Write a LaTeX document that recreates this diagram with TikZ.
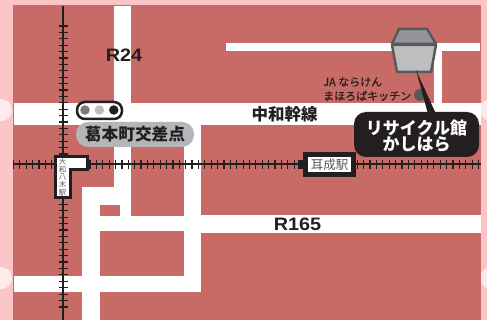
\documentclass[tikz,border=0pt]{standalone}
\usepackage{fontspec}
\setmainfont{Liberation Sans}
\newfontfamily\jpfont{Noto Sans CJK JP}
\newfontfamily\jpmedium[FakeBold=0.5]{Noto Sans CJK JP}
\usetikzlibrary{positioning, calc}
\definecolor{mapred}{HTML}{C86B67}
\definecolor{mappink}{HTML}{FBC5C8}
\definecolor{bulge}{HTML}{FDEBEB}
\definecolor{ink}{HTML}{231F20}
\definecolor{midgray}{HTML}{58595B}
\definecolor{roofgray}{HTML}{939598}
\definecolor{wallgray}{HTML}{BCBEC0}
\definecolor{pillgray}{HTML}{B5B6BA}
\tikzset{road/.style={fill=white}}
\tikzset{rail/.style={draw=ink, line width=1.2pt}}
\tikzset{roadname/.style={text=ink, font=\bfseries\fontsize{18}{18}\selectfont, inner sep=0pt, xscale=1.1, transform shape}}
\tikzset{jptext/.style={text=ink, inner sep=0pt, font=\jpfont\bfseries\fontsize{#1}{#1}\selectfont}}
\tikzset{lamp/.style={circle, minimum size=9.5pt, inner sep=0pt}}
\begin{document}
\begin{tikzpicture}[x=1pt, y=-1pt]
  \useasboundingbox (0,0) rectangle (487,320);
  \fill[mappink] (0,0) rectangle (487,320);
  \foreach \y in {110,278} {
    \fill[bulge] (1,\y) circle (11);
    \fill[bulge] (491,\y) circle (11);
  }
  \fill[mapred] (13,5) rectangle (481,320);

  % roads
  \fill[road] (114,6) rectangle (131,216);
  \fill[road] (14,103) rectangle (481,125);
  \fill[road] (184,125) rectangle (201,292);
  \fill[road] (82,187) rectangle (131,205);
  \fill[road] (82,187) rectangle (100,320);
  \fill[road] (100,216) rectangle (184,231);
  \fill[road] (201,215) rectangle (481,233);
  \fill[road] (14,276) rectangle (201,292);
  \fill[road] (226,43) rectangle (480,51);
  \fill[road] (434,43) rectangle (442,103);
  \fill[mapred] (100,205) rectangle (120,216);

  % railways
  \draw[rail] (63,6) -- (63,320);
  \draw[rail] (13,164) -- (481,164);
  \foreach \k in {0,...,20}
    \draw[rail] (59,26+6.4*\k) -- (68,26+6.4*\k);
  \foreach \k in {0,...,16}
    \draw[rail] (59,204.5+6.4*\k) -- (68,204.5+6.4*\k);
  \foreach \k in {0,...,6}
    \draw[rail] (13.3+6.4*\k,160) -- (13.3+6.4*\k,169);
  \foreach \k in {0,...,32}
    \draw[rail] (90+6.38*\k,160) -- (90+6.38*\k,169);
  \foreach \k in {0,...,19}
    \draw[rail] (357.3+6.38*\k,160) -- (357.3+6.38*\k,169);

  % stations
  \draw[ink, line width=3pt, fill=white, miter limit=4]
    (55,157) -- (87,157) -- (87,170) -- (70,170) -- (70,198) -- (55,198) -- cycle;
  \node[text=midgray, inner sep=0pt, align=center, font=\jpfont\fontsize{7.5}{7.8}\selectfont] (yagi) at (62.5,177) {大\\和\\八\\木\\駅};
  \fill[ink] (298,160) rectangle (303,169);
  \node[draw=ink, fill=white, line width=5pt, minimum width=48pt, minimum height=20pt, inner sep=0pt] (miminashi) at (329.5,164.5) {};
  \node[text=midgray, inner sep=0pt, font=\jpfont\fontsize{12.5}{12.5}\selectfont] (miminashitext) at (miminashi) {耳成駅};

  % signal
  \node[draw=ink, fill=white, line width=2.5pt, rounded corners=8pt, minimum width=45pt, minimum height=17pt, inner sep=0pt] (signal) at (99.5,110.5) {};
  \node[lamp, fill=ink!60!white] (lamp1) at (85,110) {};
  \node[lamp, fill=wallgray, right=4.5pt of lamp1] (lamp2) {};
  \node[lamp, fill=ink, right=4.5pt of lamp2] (lamp3) {};
  \node[fill=pillgray, rounded corners=12pt, minimum width=118pt, minimum height=25pt, inner sep=0pt] (crossing) at (135,134.5) {};
  \node[jptext=16.7] (crossingtext) at (crossing) {葛本町交差点};

  % road names
  \node[roadname] (r24) at (124,55) {R24};
  \node[roadname] (r165) at (297.5,224) {R165};
  \node[jptext=16.5] (chuwa) at (284.5,114) {中和幹線};

  % facility
  \node[circle, fill=midgray, minimum size=12pt, inner sep=0pt] (jadot) at (420,95) {};
  \node[text=ink, inner sep=0pt, anchor=west, font=\jpmedium\fontsize{11}{11}\selectfont] (ja1) at (323,82) {JA ならけん};
  \node[text=ink, inner sep=0pt, anchor=west, font=\jpmedium\fontsize{11}{11}\selectfont] (ja2) at (323,96) {まほろばキッチン};
  \draw[midgray, line width=2.5pt, fill=wallgray, line join=round] (392,45) -- (436,45) -- (431,72) -- (397,72) -- cycle;
  \draw[midgray, line width=2.5pt, fill=roofgray, line join=round] (399,29) -- (427,29) -- (436,44) -- (392,44) -- cycle;
  \coordinate (leadtip) at (416,70);
  \node[fill=ink, rounded corners=12pt, minimum width=125pt, minimum height=45pt, inner sep=0pt] (recycle) at (416.5,134.5) {};
  \fill[ink] (leadtip) -- (436,114) -- (428,114) -- cycle;
  \node[text=white, inner sep=0pt, align=center, font=\jpfont\bfseries\fontsize{17}{16}\selectfont] (recycletext) at ($(recycle)+(0,1.5)$) {リサイクル館\\かしはら};
\end{tikzpicture}
\end{document}
